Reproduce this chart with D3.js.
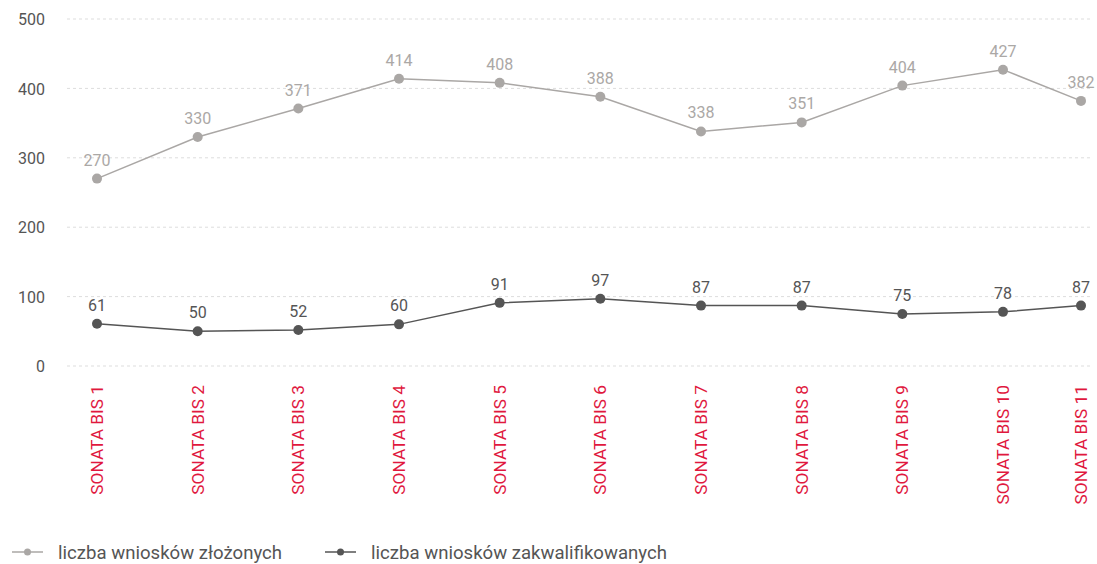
<!DOCTYPE html>
<html><head><meta charset="utf-8">
<script src="https://cdn.jsdelivr.net/npm/d3@7"></script>
<style>body{margin:0;background:#fff}svg{display:block}text{font-family:Roboto,"DejaVu Sans",sans-serif}</style>
</head><body><svg id="c" width="1097" height="564"></svg>
<script>
const categories = ["SONATA BIS 1","SONATA BIS 2","SONATA BIS 3","SONATA BIS 4","SONATA BIS 5","SONATA BIS 6","SONATA BIS 7","SONATA BIS 8","SONATA BIS 9","SONATA BIS 10","SONATA BIS 11"];
const submitted = [270,330,371,414,408,388,338,351,404,427,382];
const qualified = [61,50,52,60,91,97,87,87,75,78,87];
const yTicks = [0,100,200,300,400,500];
const seriesNames = ["liczba wniosków złożonych","liczba wniosków zakwalifikowanych"];

const svg = d3.select("#c");
const x = d3.scaleLinear().domain([0,9,10]).range([97,1003,1081]);
const y = d3.scaleLinear().domain([0,500]).range([366,19]);
const gridX = [67,1090];

const yAxis = d3.axisLeft(y).tickValues(yTicks).tickSize(0).tickPadding(0);
const gy = svg.append("g").attr("transform","translate(45,0)").call(yAxis);
gy.select(".domain").remove();
gy.selectAll("text").attr("font-size",16).attr("fill","#555").attr("dy","0.35em").attr("x",0);
svg.append("g").selectAll("line").data(yTicks).join("line")
  .attr("x1",gridX[0]).attr("x2",gridX[1]).attr("y1",d=>y(d)).attr("y2",d=>y(d))
  .attr("stroke","#ddd").attr("stroke-dasharray","3,3").attr("stroke-width",1);

svg.append("g").selectAll("text").data(categories).join("text")
  .attr("transform",(d,i)=>`translate(${x(i)+6},385) rotate(-90)`)
  .attr("text-anchor","end").attr("font-size",17.3).attr("fill","#e0183e").text(d=>d);

const series = [
  {vals:submitted,color:"#aaa7a5",lbl:"#aba8a6"},
  {vals:qualified,color:"#555555",lbl:"#555555"}
];
const line = d3.line().x((d,i)=>x(i)).y(d=>y(d));
series.forEach(s=>{
  const g = svg.append("g");
  g.append("path").datum(s.vals).attr("d",line).attr("fill","none").attr("stroke",s.color).attr("stroke-width",1.5);
  g.selectAll("circle").data(s.vals).join("circle").attr("cx",(d,i)=>x(i)).attr("cy",d=>y(d)).attr("r",5).attr("fill",s.color);
  g.selectAll("text").data(s.vals).join("text").attr("x",(d,i)=>x(i)).attr("y",d=>y(d)-13)
    .attr("text-anchor","middle").attr("font-size",16).attr("fill",s.lbl).text(d=>d);
});

const leg = svg.append("g");
const legX = [12,325];
series.forEach((s,i)=>{
  const g = leg.append("g").attr("transform",`translate(${legX[i]},552)`);
  g.append("line").attr("x1",0).attr("x2",31).attr("stroke",s.color).attr("stroke-width",1.5);
  g.append("circle").attr("cx",15.5).attr("r",3.5).attr("fill",s.color);
  g.append("text").attr("x",46).attr("dy","0.35em").attr("font-size",18.6).attr("fill","#555").text(seriesNames[i]);
});
</script></body></html>
